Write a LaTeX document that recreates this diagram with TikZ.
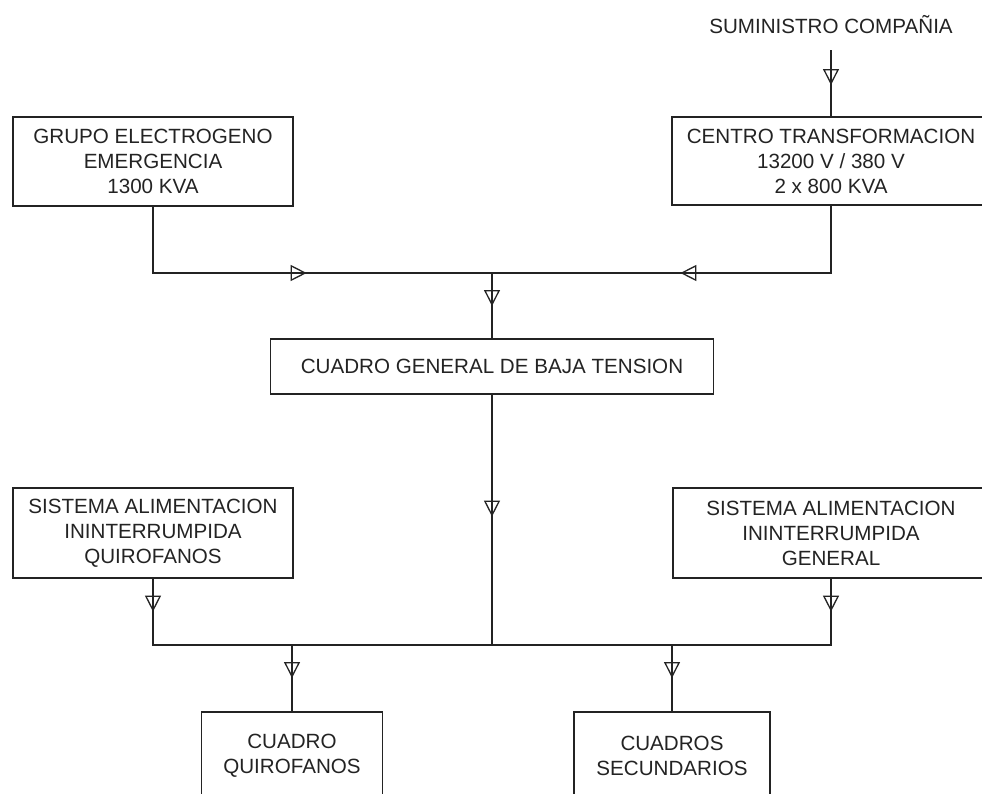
\documentclass[tikz,border=0pt]{standalone}
\usepackage{fontspec}
\setmainfont{Liberation Sans}
\usetikzlibrary{arrows.meta,decorations.markings}
\definecolor{trazo}{RGB}{35,35,35}
\newcommand{\rotulo}{\fontsize{20.6}{25}\selectfont}
\tikzset{
  caja/.style={draw=trazo, line width=1.3pt, text=trazo, font=\rotulo, align=center, inner sep=0pt},
  linea/.style={draw=trazo, line width=1.3pt},
  flujo/.style={linea, postaction={decorate},
    decoration={markings, mark=at position #1 with {\arrow[trazo]{Triangle[open, length=16pt, width=16pt, line width=1.3pt]}}}}
}
\begin{document}
\begin{tikzpicture}[x=1pt,y=-1pt]
\useasboundingbox (0,0) rectangle (982,793);
\clip (0,0) rectangle (982,793);

% Suministro de la red
\node[text=trazo, font=\rotulo] (sum) at (831,25) {SUMINISTRO COMPAÑIA};
\coordinate (acometida) at (831,50);

% Fuentes
\node[caja, minimum width=280pt, minimum height=89pt] (grupo) at (153,161.5) {GRUPO ELECTROGENO\\EMERGENCIA\\1300 KVA};
\node[caja, minimum width=318pt, minimum height=88pt] (centro) at (831,161) {CENTRO TRANSFORMACION\\13200 V / 380 V\\2 x 800 KVA};

% Cuadro general
\node[caja, minimum width=443pt, minimum height=55pt] (cgbt) at (492,366.5) {CUADRO GENERAL DE BAJA TENSION};

% SAI
\node[caja, minimum width=280pt, minimum height=90pt] (saiq) at (153,533) {SISTEMA ALIMENTACION\\ININTERRUMPIDA\\QUIROFANOS};
\node[caja, minimum width=316pt, minimum height=90pt] (saig) at (831,533) {SISTEMA ALIMENTACION\\ININTERRUMPIDA\\GENERAL};

% Cuadros de salida
\node[caja, minimum width=181pt, minimum height=88pt] (cq) at (292,756) {CUADRO\\QUIROFANOS};
\node[caja, minimum width=196pt, minimum height=88pt] (cs) at (672,756) {CUADROS\\SECUNDARIOS};

% Barras
\coordinate (barra1) at (492,273);
\coordinate (barra2) at (492,645);

% Conexiones
\draw[flujo=35pt] (acometida) -- (centro.north);
\draw[flujo=220pt] (grupo.south) |- (barra1);
\draw[flujo=218pt] (centro.south) |- (barra1);
\draw[flujo=33pt] (barra1) -- (cgbt.north);
\draw[flujo=122pt] (cgbt.south) -- (barra2);
\draw[flujo=33pt] (saiq.south) |- (barra2);
\draw[flujo=33pt] (saig.south) |- (barra2);
\draw[flujo=33pt] (cq.north |- barra2) -- (cq.north);
\draw[flujo=33pt] (cs.north |- barra2) -- (cs.north);

\end{tikzpicture}
\end{document}
